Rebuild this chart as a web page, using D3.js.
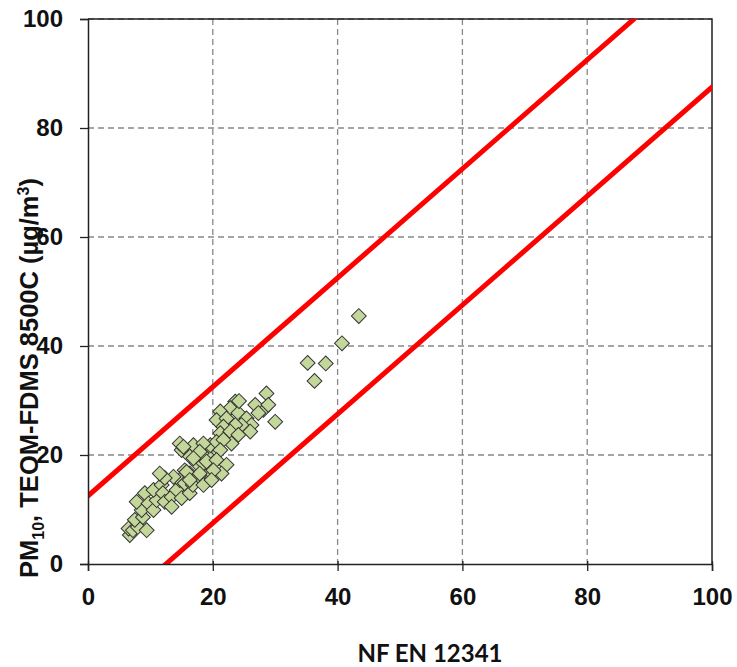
<!DOCTYPE html>
<html>
<head>
<meta charset="utf-8">
<script src="https://cdn.jsdelivr.net/npm/d3@7/dist/d3.min.js"></script>
<style>
  body { margin: 0; background: #fff; }
  svg { display: block; }
  .tick text { font-family: "Liberation Sans", Arial, sans-serif; font-weight: bold; font-size: 24px; fill: #111; }
</style>
</head>
<body>
<svg width="737" height="667"></svg>
<script>
// reference values (NF EN 12341)
var nefX = [6.7, 6.5, 7.2, 8.0, 7.5, 8.8, 9.4, 8.6, 7.8, 9.1, 9.7, 10.5, 11.0, 10.5, 11.8, 12.0,
  12.3, 13.4, 13.4, 14.2, 15.0, 14.7, 15.5, 16.3, 13.7, 12.3, 11.5, 16.3, 15.5, 17.7, 16.8, 18.5,
  17.4, 16.1, 15.0, 14.7, 16.9, 18.5, 19.6, 19.0, 18.2, 19.6,
  28.6, 28.1, 26.8, 28.9, 30.0, 27.3, 23.6, 22.8, 24.1, 21.2, 20.6, 22.2, 25.4, 26.2, 24.6, 23.6,
  21.7, 21.2, 22.8, 24.1, 26.0, 23.0, 20.6, 21.7, 21.2, 18.5, 17.9, 16.9, 19.0, 20.6, 22.2, 21.4,
  20.1, 19.8, 17.9, 15.8, 16.3, 15.3, 24.2,
  43.4, 40.7, 35.2, 38.1, 36.3];
// TEOM-FDMS 8500C values, same order
var teomY = [5.3, 6.5, 6.2, 6.8, 8.1, 8.6, 6.2, 9.9, 11.4, 13.0, 11.1, 9.9, 11.7, 13.6, 14.5, 13.0,
  11.4, 12.3, 10.5, 13.6, 12.1, 15.4, 14.8, 13.0, 16.0, 15.8, 16.6, 16.6, 17.2, 16.0, 14.5, 14.5,
  18.5, 20.0, 20.9, 22.1, 21.8, 18.5, 16.9, 20.0, 20.3, 21.8,
  31.3, 28.3, 29.2, 29.2, 26.1, 27.7, 29.8, 28.6, 27.7, 28.0, 26.4, 26.7, 26.7, 25.5, 25.5, 25.5,
  25.2, 24.0, 24.3, 23.7, 24.3, 22.1, 22.4, 22.8, 20.9, 22.1, 20.6, 19.4, 18.8, 19.1, 18.2, 16.6,
  17.2, 15.4, 16.6, 16.9, 15.4, 21.5, 29.9,
  45.5, 40.5, 36.9, 36.8, 33.6];
// y = x + offset limit lines
var limitOffsets = [12.5, -12.5];
var xTicks = [0, 20, 40, 60, 80, 100];
var yTicks = [0, 20, 40, 60, 80, 100];

var margin = {left: 88, top: 19, right: 25, bottom: 103};
var width = 737 - margin.left - margin.right,
  height = 667 - margin.top - margin.bottom;

var svg = d3.select("svg");
var g = svg.append("g")
  .attr("transform", "translate(" + margin.left + "," + margin.top + ")");

var x = d3.scaleLinear().domain([0, 100]).range([0, width]);
var y = d3.scaleLinear().domain([0, 100]).range([height, 0]);

// clip for the limit lines
g.append("clipPath").attr("id", "plot")
  .append("rect").attr("width", width).attr("height", height);

// Grid
g.append("g").selectAll("line").data(xTicks.slice(1, -1)).enter().append("line")
  .attr("x1", function(d) { return x(d); }).attr("x2", function(d) { return x(d); })
  .attr("y1", 0).attr("y2", height)
  .attr("stroke", "#888").attr("stroke-width", 1.3).attr("stroke-dasharray", "6,4");
g.append("g").selectAll("line").data(yTicks.slice(1)).enter().append("line")
  .attr("y1", function(d) { return y(d); }).attr("y2", function(d) { return y(d); })
  .attr("x1", 0).attr("x2", width)
  .attr("stroke", "#888").attr("stroke-width", 1.3).attr("stroke-dasharray", "6,4");

// Frame (top / right)
g.append("path")
  .attr("d", "M0,0H" + width + "V" + height)
  .attr("fill", "none").attr("stroke", "#222").attr("stroke-width", 1.5);

// Limit lines
var line = d3.line()
  .x(function(d) { return x(d[0]); })
  .y(function(d) { return y(d[1]); });
g.append("g").attr("clip-path", "url(#plot)")
  .selectAll("path").data(limitOffsets).enter().append("path")
  .attr("d", function(o) { return line([[-20, -20 + o], [120, 120 + o]]); })
  .attr("fill", "none").attr("stroke", "#ff0000").attr("stroke-width", 5);

// Points
var pts = nefX.map(function(v, i) { return [v, teomY[i]]; });
g.append("g").selectAll("path").data(pts).enter().append("path")
  .attr("d", d3.symbol().type(d3.symbolSquare).size(110))
  .attr("transform", function(d) { return "translate(" + x(d[0]) + "," + y(d[1]) + ") rotate(45)"; })
  .attr("fill", "#c4d79b").attr("stroke", "#333").attr("stroke-width", 1);

// Axes
var ax = g.append("g")
  .attr("transform", "translate(0," + height + ")")
  .call(d3.axisBottom(x).tickValues(xTicks).tickSize(7).tickPadding(17));
ax.selectAll(".tick line").attr("y1", -3);
var ay = g.append("g")
  .call(d3.axisLeft(y).tickValues(yTicks).tickSize(8).tickPadding(17));
svg.selectAll(".domain").attr("stroke", "#222").attr("stroke-width", 1.5);
svg.selectAll(".tick line").attr("stroke", "#222").attr("stroke-width", 1.3);

// Axis titles
svg.append("text")
  .attr("x", 430).attr("y", 662)
  .attr("text-anchor", "middle")
  .style("font-family", "Lato, 'Open Sans', sans-serif")
  .style("font-weight", "bold").style("font-size", "24px")
  .attr("fill", "#111")
  .text("NF EN 12341");

var yt = svg.append("text")
  .attr("transform", "translate(38,378) rotate(-90)")
  .attr("text-anchor", "middle")
  .style("font-family", "'Liberation Sans', Arial, sans-serif")
  .style("font-weight", "bold").style("font-size", "25.5px")
  .attr("fill", "#111");
yt.append("tspan").text("PM");
yt.append("tspan").attr("dy", 6).style("font-size", "16px").text("10");
yt.append("tspan").attr("dy", -6).text(", TEOM-FDMS 8500C  (µg/m");
yt.append("tspan").attr("dy", -9).style("font-size", "16px").text("3");
yt.append("tspan").attr("dy", 9).text(")");
</script>
</body>
</html>
